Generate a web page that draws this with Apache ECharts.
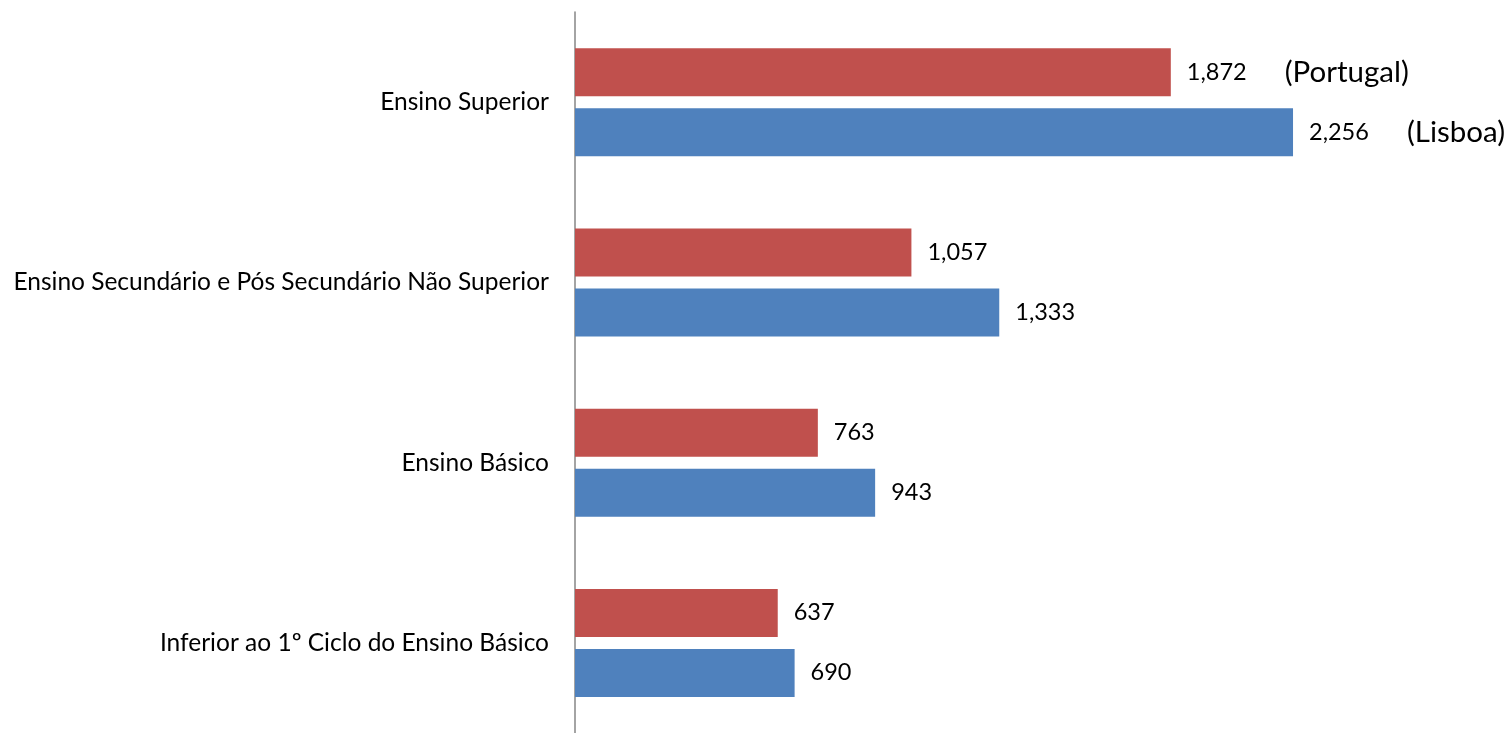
<!DOCTYPE html>
<html>
<head>
<meta charset="utf-8">
<script src="https://cdn.jsdelivr.net/npm/echarts@6/dist/echarts.min.js"></script>
<style>
  html, body { margin: 0; padding: 0; background: #fff; }
  #chart { width: 1511px; height: 733px; }
</style>
</head>
<body>
<div id="chart"></div>
<script>
// Education levels, top to bottom
const categories = [
  'Ensino Superior',
  'Ensino Secundário e Pós Secundário Não Superior',
  'Ensino Básico',
  'Inferior ao 1º Ciclo do Ensino Básico'
];
const seriesNames = ['Portugal', 'Lisboa'];
const portugalValues = [1872, 1057, 763, 637];
const lisboaValues = [2256, 1333, 943, 690];

const FONT = 'Lato, "Open Sans", sans-serif';
const fmt = v => v.toLocaleString('en-US');

function makeSeries(name, values, color) {
  return {
    name: name,
    type: 'bar',
    data: values,
    barWidth: 48,
    barGap: '25%',
    itemStyle: { color: color },
    label: {
      show: true,
      position: 'right',
      distance: 16,
      color: '#000',
      fontFamily: FONT,
      fontSize: 23.5,
      formatter: p => p.dataIndex === 0
        ? '{v|' + fmt(p.value) + '}{n|(' + name + ')}'
        : fmt(p.value),
      rich: {
        v: { fontFamily: FONT, fontSize: 23.5, color: '#000' },
        n: { fontFamily: FONT, fontSize: 29.5, color: '#000', padding: [0, 0, 0, 38] }
      }
    }
  };
}

const chart = echarts.init(document.getElementById('chart'), null, { renderer: 'canvas' });
chart.setOption({
  animation: false,
  grid: { left: 575, right: 13, top: 12, bottom: -7, containLabel: false },
  xAxis: {
    type: 'value',
    min: 0,
    max: 2900,
    show: false
  },
  yAxis: {
    type: 'category',
    data: categories,
    inverse: true,
    axisLine: { show: true, lineStyle: { color: '#868686', width: 1.5 } },
    axisTick: { show: false },
    axisLabel: {
      color: '#000',
      fontFamily: FONT,
      fontSize: 24.5,
      margin: 26
    }
  },
  series: [
    makeSeries(seriesNames[0], portugalValues, '#C0504D'),
    makeSeries(seriesNames[1], lisboaValues, '#4F81BD')
  ]
});
</script>
</body>
</html>
